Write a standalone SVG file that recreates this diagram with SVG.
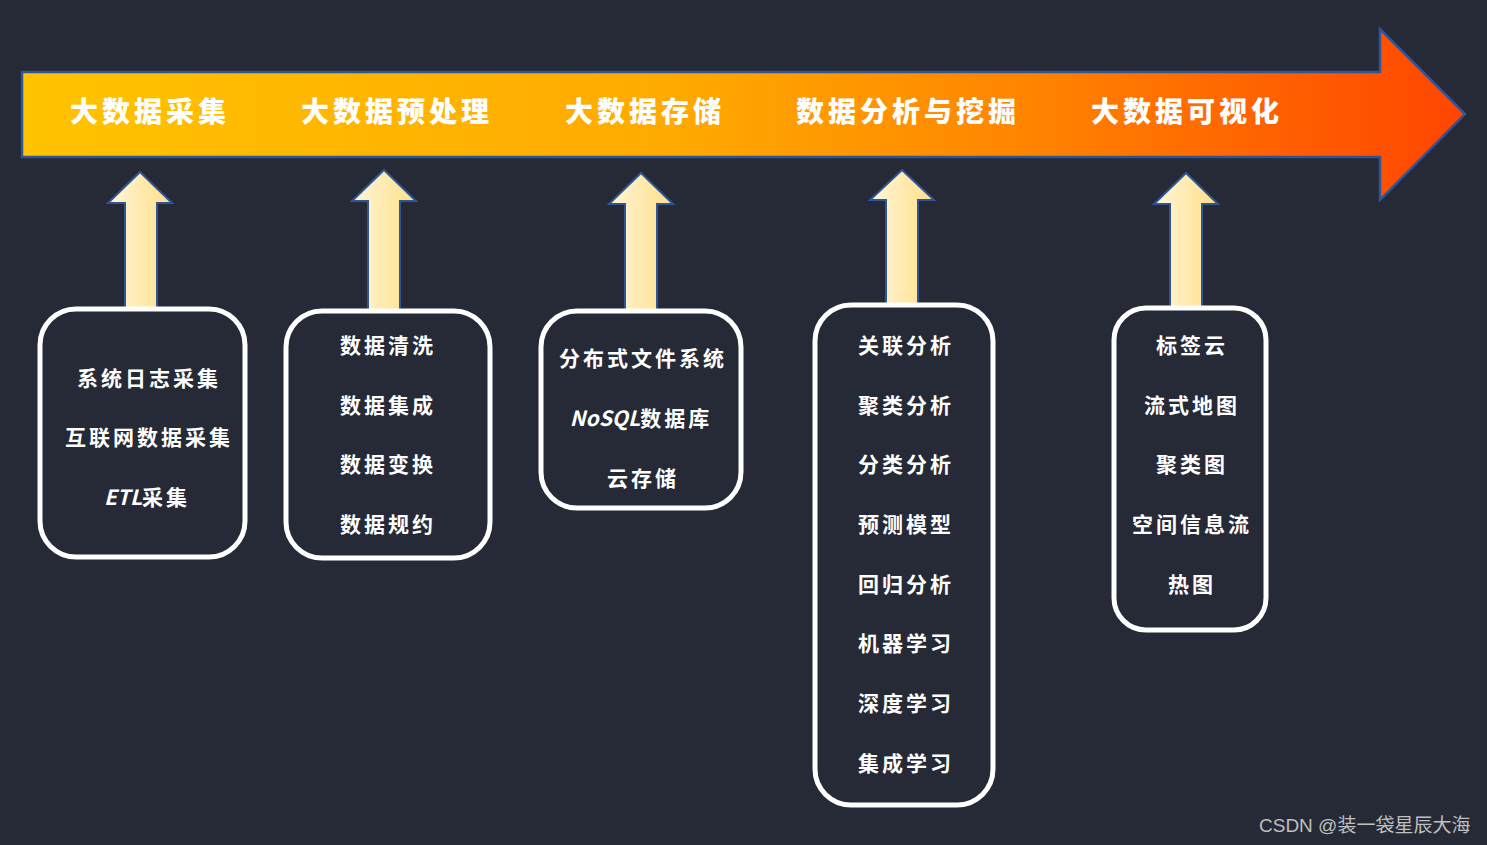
<svg xmlns="http://www.w3.org/2000/svg" width="1487" height="845" viewBox="0 0 1487 845">
<style>
.hd{font-family:"Noto Sans CJK SC","Liberation Sans",sans-serif;font-weight:900;font-size:28px;fill:#fff;letter-spacing:4px;text-anchor:middle;dominant-baseline:central}
.it{font-family:"Noto Sans CJK SC","Liberation Sans",sans-serif;font-weight:700;font-size:21px;fill:#fff;letter-spacing:3px;text-anchor:middle;dominant-baseline:central}
.lat{letter-spacing:0;font-style:italic}
.box{fill:none;stroke:#fff;stroke-width:5}
.up{fill:url(#ug);stroke:#2F5597;stroke-width:2}
.wm{font-family:"Liberation Sans","Noto Sans CJK SC",sans-serif;font-size:19px;fill:#BFBFBF}
</style>
<defs>
<linearGradient id="mg" x1="0" y1="0" x2="1" y2="0">
<stop offset="0" stop-color="#FFC300"/>
<stop offset="0.45" stop-color="#FFAA00"/>
<stop offset="0.7" stop-color="#FF8400"/>
<stop offset="1" stop-color="#FF4500"/>
</linearGradient>
<linearGradient id="ug" x1="0" y1="0" x2="1" y2="0">
<stop offset="0" stop-color="#FFF6DA"/>
<stop offset="1" stop-color="#FFDF87"/>
</linearGradient>
</defs>
<rect width="1487" height="845" fill="#252A36"/>
<g id="main-arrow">
<path d="M22,72 H1380 V29 L1465,114 L1380,200 V157 H22 Z" fill="url(#mg)" stroke="#2F5597" stroke-width="2.5"/>
<text class="hd" x="150" y="110">大数据采集</text>
<text class="hd" x="397" y="110">大数据预处理</text>
<text class="hd" x="645" y="110">大数据存储</text>
<text class="hd" x="908" y="110">数据分析与挖掘</text>
<text class="hd" x="1187" y="110">大数据可视化</text>
</g>
<g id="connectors">
<path class="up" d="M140,172 L172,203 H157 V308 H125 V203 H108 Z"/>
<path class="up" d="M384,170 L416,201 H400 V310 H368 V201 H352 Z"/>
<path class="up" d="M641,173 L673,204 H657 V310 H625 V204 H609 Z"/>
<path class="up" d="M902,170 L934,200 H918 V304 H886 V200 H870 Z"/>
<path class="up" d="M1186,173 L1218,204 H1202 V307 H1170 V204 H1154 Z"/>
</g>
<g id="box1">
<rect class="box" x="40" y="309" width="205" height="248" rx="36"/>
<text class="it" x="149" y="377">系统日志采集</text>
<text class="it" x="149" y="436">互联网数据采集</text>
<text class="it" x="147" y="496"><tspan class="lat">ETL</tspan>采集</text>
</g>
<g id="box2">
<rect class="box" x="286" y="311" width="204" height="247" rx="36"/>
<text class="it" x="388" y="344">数据清洗</text>
<text class="it" x="388" y="404">数据集成</text>
<text class="it" x="388" y="463">数据变换</text>
<text class="it" x="388" y="523">数据规约</text>
</g>
<g id="box3">
<rect class="box" x="541" y="311" width="200" height="197" rx="36"/>
<text class="it" x="643" y="357">分布式文件系统</text>
<text class="it" x="641" y="417"><tspan class="lat">NoSQL</tspan>数据库</text>
<text class="it" x="643" y="477">云存储</text>
</g>
<g id="box4">
<rect class="box" x="815" y="305" width="178" height="500" rx="36"/>
<text class="it" x="906" y="344">关联分析</text>
<text class="it" x="906" y="404">聚类分析</text>
<text class="it" x="906" y="463">分类分析</text>
<text class="it" x="906" y="523">预测模型</text>
<text class="it" x="906" y="583">回归分析</text>
<text class="it" x="906" y="642">机器学习</text>
<text class="it" x="906" y="702">深度学习</text>
<text class="it" x="906" y="762">集成学习</text>
</g>
<g id="box5">
<rect class="box" x="1114" y="308" width="152" height="322" rx="32"/>
<text class="it" x="1192" y="344">标签云</text>
<text class="it" x="1192" y="404">流式地图</text>
<text class="it" x="1192" y="463">聚类图</text>
<text class="it" x="1192" y="523">空间信息流</text>
<text class="it" x="1192" y="583">热图</text>
</g>
<text class="wm" x="1259" y="832">CSDN @装一袋星辰大海</text>
</svg>
